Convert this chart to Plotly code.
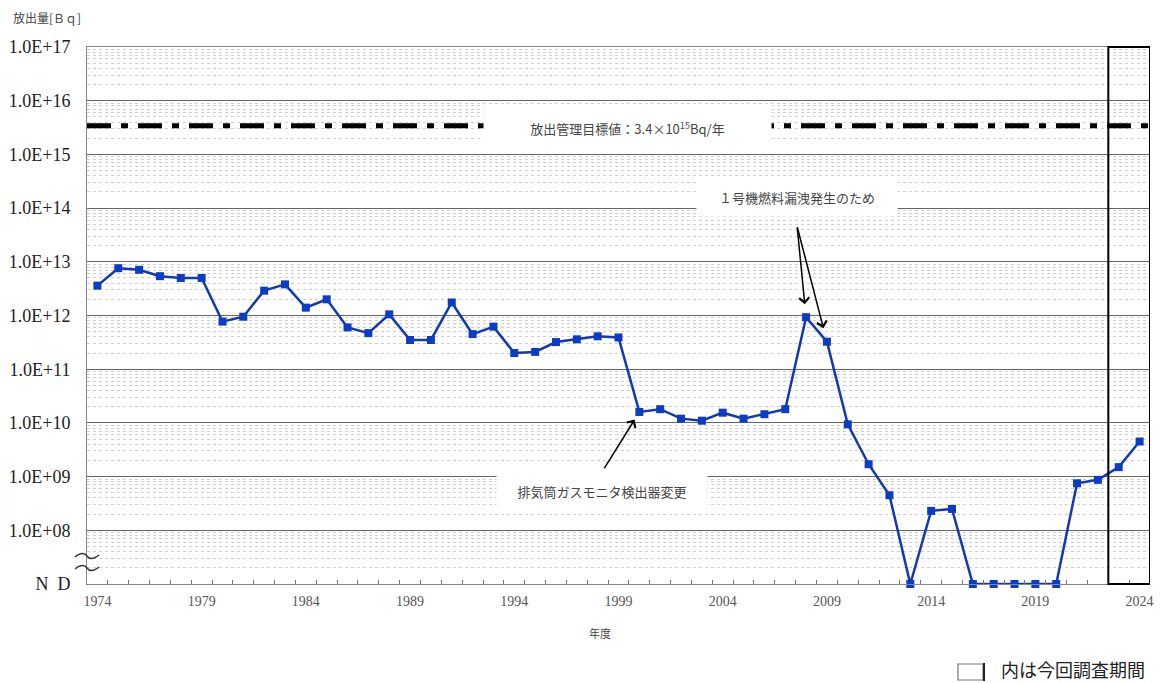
import math
import plotly.graph_objects as go

# ---------------- data ----------------
years = list(range(1974, 2025))
# None = N.D. (not detected)
release_bq = [
    3.6e12, 7.6e12, 7.1e12, 5.4e12, 5.0e12, 5.0e12,          # 1974-1979
    7.7e11, 9.5e11, 2.9e12, 3.8e12, 1.4e12, 2.0e12,          # 1980-1985
    6.0e11, 4.7e11, 1.05e12, 3.5e11, 3.5e11, 1.75e12,        # 1986-1991
    4.5e11, 6.2e11, 2.0e11, 2.1e11, 3.2e11, 3.6e11,          # 1992-1997
    4.1e11, 3.9e11, 1.6e10, 1.8e10, 1.2e10, 1.1e10,          # 1998-2003
    1.55e10, 1.2e10, 1.45e10, 1.8e10, 9.3e11, 3.25e11,       # 2004-2009
    9.4e9, 1.7e9, 4.5e8, None, 2.3e8, 2.5e8,                 # 2010-2015
    None, None, None, None, None, 7.5e8,                     # 2016-2021
    8.7e8, 1.5e9, 4.5e9,                                     # 2022-2024
]
ND_LEVEL = 1e7
limit_value = 3.4e15
tick_years = list(range(1974, 2025, 5))
y_tick_vals = [10 ** e for e in range(7, 18)]
y_tick_text = ["N\u2002D"] + ["1.0E+%02d" % e for e in range(8, 18)]
current_period = [2023, 2024]

plot_y = [v if v is not None else ND_LEVEL for v in release_bq]
val = dict(zip(years, release_bq))

# ---------------- geometry helpers ----------------
W, H = 1161, 683
L, R, T, B = 87, 11, 47, 99
pw, ph = W - L - R, H - T - B


def px(x):
    return (x - L) / pw


def py(y):
    return (H - B - y) / ph


fig = go.Figure()

# management target line (dash-dot)
fig.add_trace(go.Scatter(
    x=[years[0] - 0.5, years[-1] + 0.5], y=[limit_value, limit_value],
    mode="lines", line=dict(color="black", width=5, dash="24px,10px,7px,10px"),
    hoverinfo="skip", showlegend=False))

# release series
fig.add_trace(go.Scatter(
    x=years, y=plot_y, mode="lines+markers",
    line=dict(color="#1438b4", width=2.5),
    marker=dict(symbol="square", size=8, color="#0a3cc4"),
    cliponaxis=False, showlegend=False))

minor_vals = [k * 10 ** d for d in range(7, 17) for k in range(2, 10)]

fig.update_layout(
    width=W, height=H,
    margin=dict(l=L, r=R, t=T, b=B, autoexpand=False),
    paper_bgcolor="white", plot_bgcolor="white",
    font=dict(family="Liberation Serif", color="#333"),
    xaxis=dict(
        range=[years[0] - 0.5, years[-1] + 0.5],
        tickvals=tick_years, ticktext=[str(y) for y in tick_years],
        ticks="", showgrid=False, zeroline=False,
        showline=True, linecolor="#888", linewidth=1, mirror=True,
        tickfont=dict(family="Liberation Serif", size=14, color="#555"),
        ticklabelstandoff=4,
        minor=dict(tickvals=[y + 0.5 for y in years[:-1]], ticks="inside",
                   ticklen=4, tickcolor="#777", showgrid=False),
    ),
    yaxis=dict(
        type="log", range=[7, 17],
        tickvals=y_tick_vals, ticktext=y_tick_text, ticks="",
        showgrid=True, gridcolor="#666", gridwidth=1,
        showline=True, linecolor="#888", linewidth=1,
        tickfont=dict(family="Liberation Serif", size=18, color="#222"),
        ticklabelstandoff=12,
        minor=dict(tickvals=minor_vals, showgrid=True, gridcolor="#cfcfcf",
                   griddash="dot", gridwidth=1, ticks=""),
    ),
)

shapes = []
# current survey period box
shapes.append(dict(type="rect", xref="x", yref="paper",
                   x0=current_period[0] - 0.5, x1=current_period[1] + 0.5,
                   y0=0, y1=1, line=dict(color="black", width=2),
                   layer="above"))
# axis break marks
for off in (28, 16):
    shapes.append(dict(type="path", xref="paper", yref="paper",
                       xsizemode="pixel", ysizemode="pixel",
                       xanchor=0, yanchor=0,
                       path=f"M-12,{off-1} C-6,{off+4} -2,{off+3} 0,{off} S6,{off-4} 12,{off+1}",
                       line=dict(color="#333", width=1.5), layer="above"))
# legend box
shapes.append(dict(type="rect", xref="paper", yref="paper",
                   x0=px(958), x1=px(983), y0=py(680), y1=py(664),
                   line=dict(color="#777", width=1.2)))
shapes.append(dict(type="line", xref="paper", yref="paper",
                   x0=px(984), x1=px(984), y0=py(681), y1=py(663),
                   line=dict(color="#222", width=2)))
fig.update_layout(shapes=shapes)

label_font = dict(family="Noto Sans CJK JP", size=13, color="#444")
arrow_style = dict(text="", showarrow=True, arrowhead=4, arrowsize=1.3,
                   arrowwidth=1.5, arrowcolor="black", xref="x", yref="y")
txt = dict(xref="paper", yref="paper", showarrow=False,
           xanchor="center", yanchor="middle")
annotations = [
    # target label
    dict(x=px(627), y=py(128),
         text="放出管理目標値：3.4×10<sup>15</sup>Bq/年",
         bgcolor="white", width=285, height=44, font=label_font, **txt),
    # leak label
    dict(x=px(797), y=py(197),
         text="１号機燃料漏洩発生のため",
         bgcolor="white", width=198, height=36, font=label_font, **txt),
    # monitor change label
    dict(x=px(602), y=py(491),
         text="排気筒ガスモニタ検出器変更",
         bgcolor="white", width=208, height=38, font=label_font, **txt),
    # arrows
    dict(x=2008, y=math.log10(val[2008]), ax=-9, ay=-91, standoff=13, **arrow_style),
    dict(x=2009, y=math.log10(val[2009]), ax=-30, ay=-116, standoff=14, **arrow_style),
    dict(x=2000, y=math.log10(val[2000]), ax=-36, ay=58, standoff=9, **arrow_style),
    # axis titles
    dict(x=px(47), y=py(18), text="放出量[Ｂｑ]",
         font=dict(family="Noto Sans CJK JP", size=12, color="#444"), **txt),
    dict(x=px(600), y=py(633), text="年度",
         font=dict(family="Noto Sans CJK JP", size=11, color="#444"), **txt),
    # legend text
    dict(x=px(1073), y=py(669), text="内は今回調査期間", borderpad=0,
         font=dict(family="Noto Sans CJK JP", size=18, color="#222"), **txt),
]
fig.update_layout(annotations=annotations)

fig.write_html("out.html", config={"displayModeBar": False},
               post_script="document.body.style.margin='0';")
